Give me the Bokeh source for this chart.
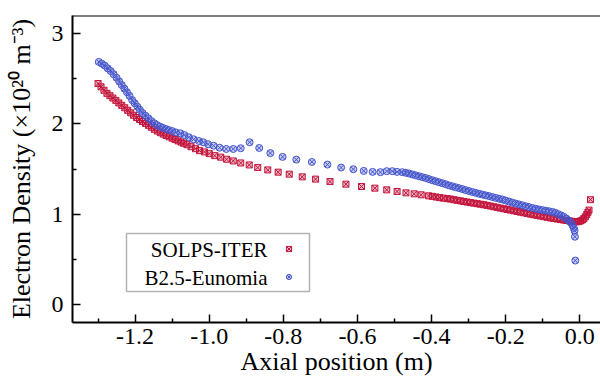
from bokeh.plotting import figure
from bokeh.models import (LinearAxis, FixedTicker, PrintfTickFormatter, Label,
                          BoxAnnotation, Legend, LegendItem, Range1d)
from bokeh.embed import file_html
from bokeh.resources import INLINE

# ---------------- data ----------------
series_names = ["SOLPS-ITER", "B2.5-Eunomia"]

solps_x = [-1.300, -1.292, -1.284, -1.276, -1.268, -1.260, -1.252, -1.244, -1.236, -1.228,
           -1.220, -1.212, -1.204, -1.196, -1.188, -1.180, -1.172, -1.164, -1.156, -1.148,
           -1.140, -1.132, -1.124, -1.116, -1.108, -1.100, -1.092, -1.084, -1.076, -1.069,
           -1.060, -1.049, -1.037, -1.026, -1.013, -1.000, -0.985, -0.969, -0.953, -0.935,
           -0.915, -0.892, -0.869, -0.842, -0.814, -0.784, -0.749, -0.713, -0.674, -0.631,
           -0.589, -0.553, -0.521, -0.493, -0.469, -0.447, -0.428, -0.408,
           -0.398, -0.388, -0.378, -0.368, -0.358, -0.349, -0.340, -0.331, -0.322, -0.313,
           -0.304, -0.295, -0.286, -0.277, -0.268, -0.259, -0.250, -0.241, -0.232, -0.223,
           -0.214, -0.205, -0.196, -0.187, -0.178, -0.169, -0.160, -0.151, -0.142, -0.133,
           -0.124, -0.115, -0.106, -0.097, -0.088, -0.079, -0.070, -0.061, -0.052, -0.044,
           -0.036, -0.028, -0.021, -0.014, -0.008, -0.003, 0.002, 0.007, 0.011, 0.015,
           0.019, 0.022, 0.025, 0.029]
solps_y = [2.447, 2.410, 2.372, 2.338, 2.312, 2.286, 2.260, 2.232, 2.205, 2.178,
           2.150, 2.122, 2.095, 2.070, 2.048, 2.026, 2.005, 1.984, 1.962, 1.940,
           1.920, 1.902, 1.886, 1.871, 1.856, 1.841, 1.826, 1.811, 1.798, 1.785,
           1.769, 1.747, 1.725, 1.703, 1.689, 1.670, 1.648, 1.631, 1.608, 1.589,
           1.567, 1.545, 1.516, 1.490, 1.465, 1.443, 1.413, 1.388, 1.361, 1.332,
           1.306, 1.288, 1.269, 1.251, 1.236, 1.225, 1.214, 1.203,
           1.197, 1.190, 1.183, 1.177, 1.172, 1.167, 1.160, 1.153, 1.147, 1.140,
           1.134, 1.128, 1.122, 1.116, 1.110, 1.104, 1.097, 1.090, 1.082, 1.075,
           1.067, 1.060, 1.052, 1.045, 1.037, 1.030, 1.022, 1.015, 1.008, 1.000,
           0.993, 0.986, 0.979, 0.972, 0.965, 0.958, 0.952, 0.946, 0.940, 0.935,
           0.930, 0.925, 0.920, 0.916, 0.915, 0.918, 0.925, 0.935, 0.950, 0.970,
           0.995, 1.020, 1.045, 1.160]

b25_x = [-1.298, -1.290, -1.282, -1.274, -1.266, -1.258, -1.250, -1.243, -1.236, -1.229,
         -1.222, -1.215, -1.208, -1.201, -1.194, -1.187, -1.180, -1.172, -1.164, -1.156,
         -1.148, -1.141, -1.133, -1.125, -1.117, -1.109, -1.100, -1.090, -1.078, -1.067,
         -1.055, -1.042, -1.028, -1.016, -1.003, -0.988, -0.972, -0.954, -0.935, -0.915,
         -0.891, -0.865, -0.835, -0.802, -0.765, -0.723, -0.681, -0.644, -0.611, -0.583,
         -0.559, -0.538, -0.521, -0.506, -0.493, -0.479,
         -0.470, -0.461, -0.452, -0.443, -0.434, -0.425, -0.416, -0.407, -0.398, -0.389,
         -0.380, -0.371, -0.362, -0.353, -0.344, -0.335, -0.326, -0.317, -0.308, -0.299,
         -0.290, -0.281, -0.272, -0.263, -0.254, -0.245, -0.236, -0.227, -0.218, -0.209,
         -0.200, -0.191, -0.182, -0.173, -0.164, -0.155, -0.146, -0.137, -0.128, -0.119,
         -0.110, -0.101, -0.092, -0.083, -0.074, -0.066, -0.058, -0.050, -0.043, -0.036,
         -0.030, -0.025, -0.020, -0.016, -0.014, -0.013, -0.012]
b25_y = [2.686, 2.667, 2.645, 2.615, 2.585, 2.550, 2.510, 2.470, 2.430, 2.390,
         2.350, 2.310, 2.263, 2.228, 2.190, 2.155, 2.120, 2.090, 2.060, 2.030,
         2.005, 1.987, 1.970, 1.955, 1.943, 1.932, 1.920, 1.905, 1.895, 1.876,
         1.851, 1.829, 1.810, 1.796, 1.774, 1.758, 1.736, 1.722, 1.722, 1.730,
         1.796, 1.733, 1.676, 1.634, 1.604, 1.578, 1.549, 1.516, 1.498, 1.479,
         1.468, 1.465, 1.476, 1.476, 1.468, 1.465,
         1.458, 1.450, 1.440, 1.430, 1.420, 1.410, 1.400, 1.388, 1.376, 1.365,
         1.354, 1.343, 1.332, 1.318, 1.308, 1.298, 1.288, 1.278, 1.266, 1.256,
         1.246, 1.236, 1.226, 1.217, 1.208, 1.200, 1.190, 1.180, 1.171, 1.162,
         1.151, 1.139, 1.128, 1.117, 1.108, 1.098, 1.088, 1.078, 1.068, 1.060,
         1.052, 1.045, 1.038, 1.032, 1.025, 1.015, 1.000, 0.985, 0.970, 0.950,
         0.930, 0.910, 0.880, 0.847, 0.817, 0.750, 0.486]

x_ticks = [-1.2, -1.0, -0.8, -0.6, -0.4, -0.2, 0.0]
x_minor_ticks = [-1.3, -1.1, -0.9, -0.7, -0.5, -0.3, -0.1]
y_ticks = [0, 1, 2, 3]
y_minor_ticks = [0.5, 1.5, 2.5]

x_label = "Axial position (m)"
y_label = "Electron Density (\u00d710\u00b2\u2070 m\u207b\u00b3)"

# ---------------- styling ----------------
RED = "#C3143C"
BLUE = "#4555CC"
FONT = "'Liberation Serif', 'Times New Roman', Times, serif"
FRAME_H = 308

p = figure(width=600, height=378,
           x_range=Range1d(-1.369, 0.056), y_range=Range1d(-0.2, 3.2),
           output_backend="svg", toolbar_location=None,
           x_axis_location=None, y_axis_location=None,
           min_border_left=72, min_border_right=0, min_border_top=15, min_border_bottom=55)
p.grid.visible = False
p.outline_line_color = None
p.background_fill_color = "white"
p.border_fill_color = "white"


def style_axis(ax):
    ax.axis_line_width = 2
    ax.axis_line_color = "black"
    ax.major_tick_in = 8
    ax.major_tick_out = 0
    ax.minor_tick_in = 4
    ax.minor_tick_out = 0
    ax.major_tick_line_width = 1.5
    ax.minor_tick_line_width = 1.5
    ax.major_label_text_font = FONT
    ax.major_label_text_font_size = "24px"
    ax.major_label_text_color = "black"
    ax.axis_label_text_font = FONT
    ax.axis_label_text_font_size = "26px"
    ax.axis_label_text_font_style = "normal"
    ax.axis_label_text_color = "black"


xaxis = LinearAxis(ticker=FixedTicker(ticks=x_ticks, minor_ticks=x_minor_ticks),
                   formatter=PrintfTickFormatter(format="%.1f"), axis_label=x_label)
style_axis(xaxis)
xaxis.major_label_standoff = 6
xaxis.axis_label_standoff = 0
p.add_layout(xaxis, "below")

yaxis = LinearAxis(ticker=FixedTicker(ticks=y_ticks, minor_ticks=y_minor_ticks),
                   formatter=PrintfTickFormatter(format="%d"), axis_label=y_label)
style_axis(yaxis)
yaxis.major_label_standoff = 9
yaxis.axis_label_standoff = 13
p.add_layout(yaxis, "left")

# top edge of the axis box (the right edge is cropped off in the reference)
top_edge = BoxAnnotation(left=-2, right=700, bottom=FRAME_H - 2, top=FRAME_H + 2,
                         left_units="screen", right_units="screen",
                         bottom_units="screen", top_units="screen",
                         fill_color="black", fill_alpha=1.0, line_color=None)
p.add_layout(top_edge)

r_solps = p.scatter(solps_x, solps_y, marker="square_x", size=6,
                    line_color=RED, fill_color=RED, fill_alpha=0.3, line_width=1)
r_b25 = p.scatter(b25_x, b25_y, marker="circle_x", size=7,
                  line_color=BLUE, fill_color=BLUE, fill_alpha=0.3, line_width=1)

# legend: frame box, right-aligned names, keys on the right
box = BoxAnnotation(left=54, right=237, bottom=31, top=89,
                    left_units="screen", right_units="screen",
                    bottom_units="screen", top_units="screen",
                    fill_color=None, line_color="black", line_width=1.5)
p.add_layout(box)

keys = Legend(items=[LegendItem(label=" ", renderers=[r_solps]),
                     LegendItem(label=" ", renderers=[r_b25])],
              location=(209.5, 38.8), orientation="vertical",
              border_line_color=None, background_fill_alpha=0,
              padding=0, margin=0, spacing=15,
              glyph_width=13, glyph_height=13,
              label_standoff=0, label_width=0, label_height=13,
              label_text_font_size="1px")
p.add_layout(keys)

for name, ly in zip(series_names, [72.3, 45.0]):
    p.add_layout(Label(x=195, y=ly, x_units="screen", y_units="screen", text=name,
                       text_align="right", text_baseline="middle",
                       text_font=FONT, text_font_size="21px", text_color="black"))

open("out.html", "w").write(file_html(p, INLINE))
